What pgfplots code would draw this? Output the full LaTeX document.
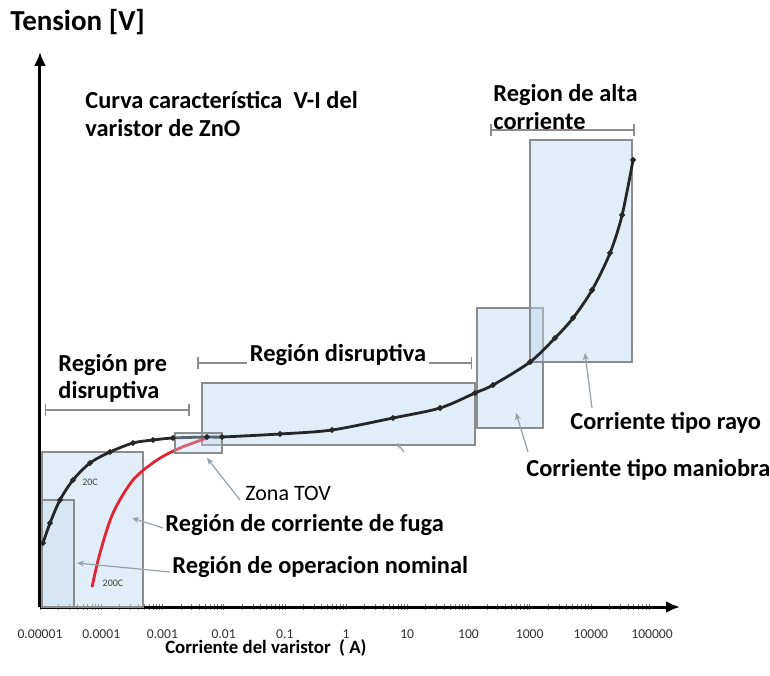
\documentclass[border=0pt]{standalone}
\usepackage{fontspec}
\setmainfont{Carlito}
\usepackage{pgfplots}
\pgfplotsset{compat=1.18}
\usetikzlibrary{arrows.meta}
\definecolor{boxfill}{RGB}{189,215,238}
\definecolor{boxline}{RGB}{140,140,140}
\definecolor{curvered}{RGB}{228,35,50}
\definecolor{ptr}{RGB}{150,160,170}
\begin{document}
\begin{tikzpicture}
\useasboundingbox (-20pt,-34pt) rectangle (365pt,303.5pt);
\begin{axis}[
  at={(0pt,0pt)}, anchor=south west, scale only axis,
  width=320pt, height=277.5pt,
  xmode=log, xmin=1e-5, xmax=2.86e5, ymin=0, ymax=555,
  axis lines=left,
  axis line style={line width=1.5pt, -{Latex[length=7pt,width=6pt]}},
  ytick=\empty,
  xtick={1e-5,1e-4,1e-3,1e-2,1e-1,1,10,100,1000,10000,100000},
  xticklabels={0.00001,0.0001,0.001,0.01,0.1,1,10,100,1000,10000,100000},
  major tick length=0pt,
  xticklabel style={anchor=center, yshift=-13.5pt, font=\fontsize{6.8}{7}\selectfont, text=black!80},
  /pgf/number format/assume math mode=true,
  xlabel={\textbf{Corriente del varistor\ \ ( A)}},
  xlabel style={at={(axis description cs:0.353,0)}, anchor=center, yshift=-20.5pt, font=\fontsize{9.4}{10}\selectfont},
  clip=false,
]
% region boxes
\draw[boxline, line width=0.9pt, fill=boxfill, fill opacity=0.45] (axis cs:1.08e-5,0) rectangle (axis cs:4.8e-4,155);
\draw[boxline, line width=0.9pt, fill=boxfill, fill opacity=0.3] (axis cs:1.08e-5,0) rectangle (axis cs:3.6e-5,107);
\draw[boxline, line width=0.9pt, fill=boxfill, fill opacity=0.45] (axis cs:4.4e-3,162) rectangle (axis cs:128,224);
\draw[boxline, line width=0.9pt, fill=boxfill, fill opacity=0.45] (axis cs:138,179) rectangle (axis cs:1660,299);
\draw[boxline, line width=0.9pt, fill=boxfill, fill opacity=0.45] (axis cs:1020,245) rectangle (axis cs:47000,467);
% brackets
\draw[boxline, line width=0.8pt, {Bar[width=6pt]}-{Bar[width=6pt]}] (axis cs:1.2e-5,197) -- (axis cs:2.8e-3,197);
\draw[boxline, line width=0.8pt, {Bar[width=6pt]}-{Bar[width=6pt]}] (axis cs:3.7e-3,244) -- (axis cs:115,244);
\draw[boxline, line width=0.8pt, {Bar[width=6pt]}-{Bar[width=6pt]}] (axis cs:225,477) -- (axis cs:52700,477);
% 200C curve
\addplot[curvered, line width=1.4pt, smooth, tension=0.5] coordinates {
(7.08e-5,20) (9.55e-5,54) (1.56e-4,94) (3.31e-4,127) (8.17e-4,147) (1.94e-3,159) (5.36e-3,169)};
% 20C curve
\addplot[black!85, line width=1.4pt, smooth, tension=0.5, mark=*, mark size=0.6pt] coordinates {
(1.12e-5,64) (1.46e-5,84) (2.12e-5,107) (3.46e-5,127) (6.56e-5,144) (1.39e-4,155) (3.31e-4,164)
(7.02e-4,167) (1.49e-3,169) (5.36e-3,170) (9.42e-3,170) (0.0835,173) (0.59,177) (5.86,189)
(34.4,199) (128,214) (252,222) (1016,245) (2600,269) (5120,289) (10470,317) (20600,354)
(32400,392) (48900,447)};
% TOV box on top
\draw[boxline, line width=0.9pt, fill=boxfill, fill opacity=0.35] (axis cs:1.6e-3,154) rectangle (axis cs:9.4e-3,174);
\end{axis}
\begin{scope}[shift={(-20pt,303.5pt)}, x=0.5pt, y=-0.5pt]
\node[anchor=west, font=\fontsize{14.5}{17}\selectfont\bfseries, inner sep=0pt] at (10,22) {Tension [V]};
\node[anchor=west, font=\fontsize{12.2}{14}\selectfont\bfseries, inner sep=0pt] at (85,100) {Curva característica\ \ V-I del};
\node[anchor=west, font=\fontsize{12.2}{14}\selectfont\bfseries, inner sep=0pt] at (85,128) {varistor de ZnO};
\node[anchor=west, font=\fontsize{12.2}{14}\selectfont\bfseries, inner sep=0pt] at (58,365) {Región pre};
\node[anchor=west, font=\fontsize{12.2}{14}\selectfont\bfseries, inner sep=0pt] at (58,392) {disruptiva};
\node[font=\fontsize{12.2}{14}\selectfont\bfseries, fill=white, inner sep=1.5pt] at (338,355) {Región disruptiva};
\node[anchor=west, font=\fontsize{12.2}{14}\selectfont\bfseries, inner sep=0pt] at (493,95) {Region de alta};
\node[anchor=west, font=\fontsize{12.2}{14}\selectfont\bfseries, inner sep=0pt] at (493,121) {corriente};
\node[anchor=west, font=\fontsize{12.2}{14}\selectfont\bfseries, inner sep=0pt] at (570,423) {Corriente tipo rayo};
\node[anchor=west, font=\fontsize{12.2}{14}\selectfont\bfseries, inner sep=0pt] at (526,470) {Corriente tipo maniobra};
\node[anchor=west, font=\fontsize{11}{13}\selectfont, inner sep=0pt] at (245,493) {Zona TOV};
\node[anchor=west, font=\fontsize{12.2}{14}\selectfont\bfseries, inner sep=0pt] at (165,525) {Región de corriente de fuga};
\node[anchor=west, font=\fontsize{12.2}{14}\selectfont\bfseries, inner sep=0pt] at (172,567) {Región de operacion nominal};
\node[font=\fontsize{5}{6}\selectfont, text=black!75, inner sep=0pt] at (90,482) {20C};
\node[font=\fontsize{5}{6}\selectfont, text=black!75, inner sep=0pt] at (113,583) {200C};
% pointer lines
\draw[ptr, line width=0.6pt, -{Stealth[length=3.5pt,width=3pt]}] (592,408) -- (585,353);
\draw[ptr, line width=0.6pt, -{Stealth[length=3.5pt,width=3pt]}] (528,452) -- (516,413);
\draw[ptr, line width=0.6pt, -{Stealth[length=3.5pt,width=3pt]}] (240,500) -- (207,458);
\draw[ptr, line width=0.6pt, -{Stealth[length=3.5pt,width=3pt]}] (163,528) -- (132,518);
\draw[ptr, line width=0.6pt, -{Stealth[length=3.5pt,width=3pt]}] (170,572) -- (77,563);
\draw[ptr, line width=0.6pt, -{Stealth[length=3pt,width=2.5pt]}] (404,452) -- (397,443);
\end{scope}
\end{tikzpicture}
\end{document}
